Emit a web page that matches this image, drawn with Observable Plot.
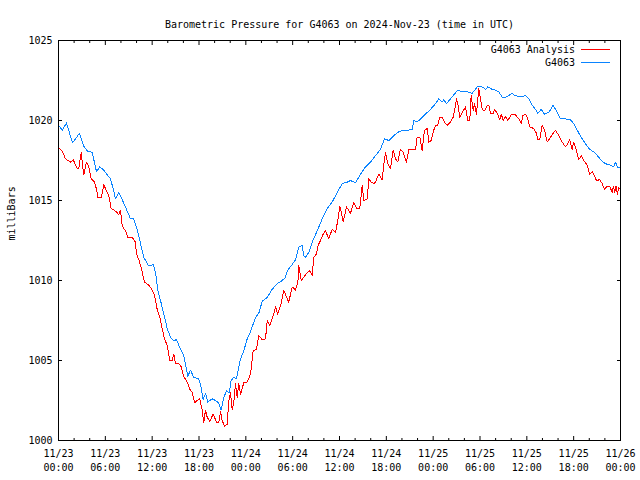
<!DOCTYPE html>
<html>
<head>
<meta charset="utf-8">
<script src="https://cdn.jsdelivr.net/npm/d3@7"></script>
<script src="https://cdn.jsdelivr.net/npm/@observablehq/plot@0.6"></script>
<style>
  body { margin: 0; background: #fff; }
  #wrap { position: relative; width: 640px; height: 480px; font-family: "DejaVu Sans Mono", monospace; font-size: 10px; }
  .leg-text { position: absolute; right: 65px; line-height: 12px; white-space: pre; color: #000; }
  .leg-line { position: absolute; left: 581px; width: 29px; height: 0; border-top: 1px solid; }
</style>
</head>
<body>
<div id="wrap"></div>
<script>
// ---- data ----
const startTime = "2024-11-23T00:00:00Z";
const titleText = "Barometric Pressure for G4063 on 2024-Nov-23 (time in UTC)";
const yAxisLabel = "milliBars";
const seriesNames = ["G4063 Analysis", "G4063"];
const seriesColors = ["#ff0000", "#0a84ff"];

const yTicks = [1000, 1005, 1010, 1015, 1020, 1025];
const xTickHours = [0, 6, 12, 18, 24, 30, 36, 42, 48, 54, 60, 66, 72];
const xMinorHours = [2, 4, 8, 10, 14, 16, 20, 22, 26, 28, 32, 34, 38, 40, 44, 46, 50, 52, 56, 58, 62, 64, 68, 70];

// G4063 Analysis (red): hours since start, pressure (mb)
const analysisHours = [
  0,0.47,0.9,1.54,1.88,2.4,2.6,2.91,3.16,3.24,
  3.59,3.88,4.19,4.61,4.87,5.03,5.51,5.8,6.15,6.44,
  6.75,7.43,7.73,7.94,8.16,8.58,8.88,9.44,9.86,9.99,
  10.29,10.59,11.02,11.57,11.88,12.21,12.43,12.64,12.98,13.28,
  13.58,13.93,14.26,14.57,14.77,14.99,15.41,15.72,16.05,16.49,
  16.82,17.13,17.46,17.77,18.1,18.41,18.61,18.83,19.05,19.38,
  19.82,20.24,20.54,20.75,20.97,21.27,21.61,21.82,22.04,22.25,
  22.46,22.68,22.89,23.1,23.32,23.74,24.17,24.6,24.94,25.37,
  25.66,26.1,26.52,26.74,27.07,27.51,27.8,28.09,28.53,28.86,
  29.21,29.5,29.94,30.36,30.66,30.79,31.09,31.43,31.86,32.19,
  32.5,32.7,33.05,33.27,33.57,33.91,34.21,34.63,35.06,35.49,
  35.78,36.04,36.22,36.47,36.9,37.41,37.83,38.18,38.6,38.91,
  39.12,39.55,39.75,40.06,40.39,40.61,41.03,41.47,41.67,41.89,
  42.2,42.53,42.88,43.17,43.47,43.81,44.16,44.58,44.88,45.44,
  45.74,45.95,46.29,46.59,46.89,47.24,47.44,47.75,48.01,48.3,
  48.59,48.85,49.16,49.45,49.8,50.22,50.56,50.73,50.99,51.16,
  51.41,51.72,52.14,52.44,52.69,52.87,53.13,53.3,53.55,53.85,
  54.06,54.28,54.58,54.92,55.13,55.35,55.69,55.86,56.2,56.54,
  56.72,56.98,57.27,57.57,58,58.55,58.97,59.28,59.48,59.83,
  60.12,60.38,60.89,61.24,61.41,61.66,61.97,62.26,62.61,63.03,
  63.38,63.67,64.1,64.53,64.95,65.25,65.5,65.81,66.01,66.36,
  66.66,66.96,67.3,67.73,68.06,68.37,68.67,68.92,69.35,69.66,
  69.95,70.3,70.64,70.95,71.08,71.25,71.42,71.6,71.79,72
];
const analysisValues = [
  1018.3,1018.1,1017.6,1017.4,1017.55,1017.0,1017.0,1018.0,1016.9,1016.6,
  1017.4,1017.1,1016.35,1016.15,1015.7,1015.2,1015.2,1016.0,1015.6,1015.3,
  1014.5,1014.3,1014.1,1014.4,1013.4,1013.1,1012.7,1012.7,1012.4,1011.65,
  1011.3,1010.8,1009.9,1009.7,1009.5,1009.2,1008.8,1008.2,1007.7,1007.0,
  1006.35,1005.95,1005.0,1005.0,1005.4,1004.8,1004.8,1004.6,1004.0,1003.65,
  1003.2,1003.0,1002.35,1002.5,1002.6,1001.9,1001.1,1001.9,1001.45,1001.2,
  1001.65,1001.15,1001.15,1001.8,1001.25,1000.9,1001.0,1002.5,1003.0,1001.9,
  1002.4,1003.55,1002.7,1003.55,1002.9,1003.6,1003.65,1004.15,1005.6,1005.7,
  1006.55,1006.3,1006.35,1007.5,1007.2,1007.8,1008.35,1007.9,1008.55,1009.4,
  1008.95,1008.65,1009.6,1009.4,1009.85,1010.95,1010.0,1010.2,1010.5,1010.6,
  1010.3,1011.45,1011.65,1012.2,1012.5,1012.9,1013.1,1012.6,1013.2,1013.0,
  1013.75,1014.6,1014.3,1013.65,1014.6,1014.2,1014.9,1014.5,1014.5,1015.95,
  1015.0,1015.1,1016.35,1016.15,1016.05,1016.15,1016.65,1016.3,1017.2,1018.0,
  1017.3,1017.0,1018.15,1017.6,1017.4,1018.2,1018.0,1017.4,1018.2,1018.2,
  1018.2,1018.95,1018.95,1018.1,1019.4,1019.5,1018.65,1018.75,1019.3,1019.7,
  1019.7,1020.2,1020.2,1019.9,1019.7,1019.9,1020.2,1020.6,1021.35,1021.05,
  1020.2,1020.5,1020.85,1020.0,1020.0,1021.55,1020.6,1021.05,1020.4,1022.0,
  1021.35,1020.7,1020.6,1020.95,1020.95,1020.45,1020.45,1020.7,1020.45,1020.05,
  1020.4,1020.0,1020.25,1020.0,1020.35,1020.35,1020.1,1019.8,1020.3,1020.4,
  1020.1,1019.6,1019.5,1019.2,1018.8,1018.85,1019.7,1019.4,1018.65,1018.95,
  1019.2,1019.4,1019.05,1018.65,1018.35,1018.55,1018.8,1018.2,1018.65,1018.1,
  1017.55,1017.8,1017.5,1017.2,1016.65,1016.8,1016.55,1016.25,1016.3,1016.05,
  1015.7,1015.9,1015.85,1015.5,1015.9,1015.5,1015.9,1015.4,1015.8,1015.7
];

// G4063 station (blue): hours since start, pressure (mb)
const stationHours = [
  0,0.51,1.02,1.79,2.69,3.24,3.68,4.32,4.87,5.29,
  5.8,6.24,6.66,7.08,7.3,7.73,8.16,8.58,9.22,9.57,
  10.08,10.51,10.93,11.57,12.13,12.43,12.72,13.07,13.49,13.93,
  14.35,14.77,15.12,15.54,15.98,16.27,16.56,16.91,17.33,17.97,
  18.28,18.54,18.83,19.13,19.69,20.11,20.53,20.84,21.18,21.52,
  21.87,22.12,22.46,22.8,23.1,23.32,23.74,24.17,24.6,25.24,
  25.66,26.1,26.74,27.38,28.02,28.66,29.08,29.3,29.94,30.36,
  30.79,31.22,31.43,31.64,32.07,32.5,33.14,33.78,34.42,35.06,
  35.7,36.35,36.99,37.41,38.05,38.69,39.33,39.97,40.61,41.25,
  41.77,42.32,42.96,43.6,44.24,44.88,45.31,45.52,45.95,46.59,
  47.24,47.66,48.3,48.72,49.16,49.36,49.71,50.22,50.64,51.16,
  51.72,52.36,53,53.64,54.28,54.7,55,55.56,55.98,56.41,
  56.84,57.27,57.82,58.04,58.55,59.19,59.83,60.25,60.69,61.11,
  61.41,61.84,62.26,62.81,63.38,63.89,64.31,64.95,65.59,66.01,
  66.45,66.96,67.51,68.06,68.67,69.22,69.66,70.08,70.72,71.14,
  71.36,71.66,72
];
const stationValues = [
  1019.69,1019.4,1019.85,1018.6,1019.2,1018.4,1018.1,1018.0,1016.8,1017.1,
  1016.9,1016.6,1016.35,1015.6,1015.1,1015.5,1015.05,1014.6,1013.85,1013.9,
  1013.2,1012.3,1011.45,1010.9,1011.0,1010.5,1009.4,1008.75,1007.9,1007.0,
  1006.45,1006.25,1006.3,1005.8,1005.4,1004.8,1004.0,1004.4,1003.95,1003.85,
  1003.3,1002.55,1002.95,1002.4,1002.6,1002.5,1002.35,1001.9,1002.7,1003.1,
  1003.0,1003.75,1003.95,1003.85,1004.6,1005.1,1005.6,1006.35,1006.8,1007.7,
  1007.95,1008.7,1008.95,1009.45,1009.8,1010.0,1010.2,1010.6,1011.0,1011.3,
  1012.1,1012.2,1011.55,1011.45,1011.75,1012.4,1013.1,1013.85,1014.5,1014.9,
  1015.5,1016.05,1016.15,1016.25,1016.1,1016.65,1017.1,1017.4,1017.8,1018.2,
  1018.85,1018.75,1019.05,1019.3,1019.4,1019.4,1019.45,1020.0,1019.9,1020.2,
  1020.5,1020.7,1021.05,1021.35,1021.15,1021.3,1021.05,1021.35,1021.6,1021.9,
  1021.8,1021.8,1021.7,1022.1,1022.1,1021.95,1022.1,1021.95,1021.9,1021.8,
  1021.45,1021.45,1021.6,1021.7,1021.55,1021.5,1021.55,1021.35,1020.95,1020.7,
  1020.45,1020.7,1020.4,1020.5,1020.95,1020.5,1020.1,1020.1,1020.05,1019.8,
  1019.4,1018.95,1018.55,1018.2,1018.0,1017.7,1017.45,1017.3,1017.2,1017.1,
  1017.4,1017.05,1017.1
];

// ---- build ----
const base = new Date(startTime).getTime();
const toDate = h => new Date(base + h * 3600e3);
const analysis = analysisHours.map((h, i) => ({ t: toDate(h), v: analysisValues[i] }));
const station = stationHours.map((h, i) => ({ t: toDate(h), v: stationValues[i] }));
const majorTicks = xTickHours.map(toDate);
const minorTicks = xMinorHours.map(toDate);
const fmtDay = d3.utcFormat("%m/%d");
const fmtTime = d3.utcFormat("%H:%M");

const chart = Plot.plot({
  width: 640,
  height: 480,
  marginLeft: 58,
  marginRight: 20,
  marginTop: 40,
  marginBottom: 40,
  style: { fontFamily: "'DejaVu Sans Mono', monospace", fontSize: "10px", background: "white", color: "black" },
  x: { type: "utc", domain: [toDate(0), toDate(72)], label: null },
  y: { domain: [1000, 1025], label: null },
  marks: [
    // labels
    Plot.axisX({ anchor: "bottom", ticks: majorTicks, tickSize: 0, tickPadding: 7, label: null,
      tickFormat: d => fmtDay(d) + "\n" + fmtTime(d), lineHeight: 1.4 }),
    Plot.axisY({ anchor: "left", ticks: yTicks, tickSize: 0, tickPadding: 6, label: null, tickFormat: d => String(d) }),
    // inward ticks (mirrored)
    Plot.axisX({ anchor: "bottom", ticks: majorTicks, tickSize: 4, dy: -4, text: null, label: null }),
    Plot.axisX({ anchor: "top", ticks: majorTicks, tickSize: 4, dy: 4, text: null, label: null }),
    Plot.axisX({ anchor: "bottom", ticks: minorTicks, tickSize: 2, dy: -2, text: null, label: null }),
    Plot.axisX({ anchor: "top", ticks: minorTicks, tickSize: 2, dy: 2, text: null, label: null }),
    Plot.axisY({ anchor: "left", ticks: yTicks, tickSize: 4, dx: 4, text: null, label: null }),
    Plot.axisY({ anchor: "right", ticks: yTicks, tickSize: 4, dx: -4, text: null, label: null }),
    // series
    Plot.line(analysis, { x: "t", y: "v", stroke: seriesColors[0], strokeWidth: 1, shapeRendering: "crispEdges" }),
    Plot.line(station, { x: "t", y: "v", stroke: seriesColors[1], strokeWidth: 1, shapeRendering: "crispEdges" }),
    Plot.frame({ stroke: "black" }),
    // title & y label
    Plot.text([titleText], { frameAnchor: "top", dy: -20, fontSize: 10 }),
    Plot.text([yAxisLabel], { frameAnchor: "left", dx: -47, rotate: -90, fontSize: 10 })
  ]
});

const wrap = document.getElementById("wrap");
wrap.appendChild(chart);

// legend (top right, inside plot)
const legendTops = [44, 57];
seriesNames.forEach((name, i) => {
  const t = document.createElement("div");
  t.className = "leg-text";
  t.style.top = legendTops[i] + "px";
  t.textContent = name;
  wrap.appendChild(t);
  const l = document.createElement("div");
  l.className = "leg-line";
  l.style.top = (legendTops[i] + 5) + "px";
  l.style.borderColor = seriesColors[i];
  wrap.appendChild(l);
});
</script>
</body>
</html>
